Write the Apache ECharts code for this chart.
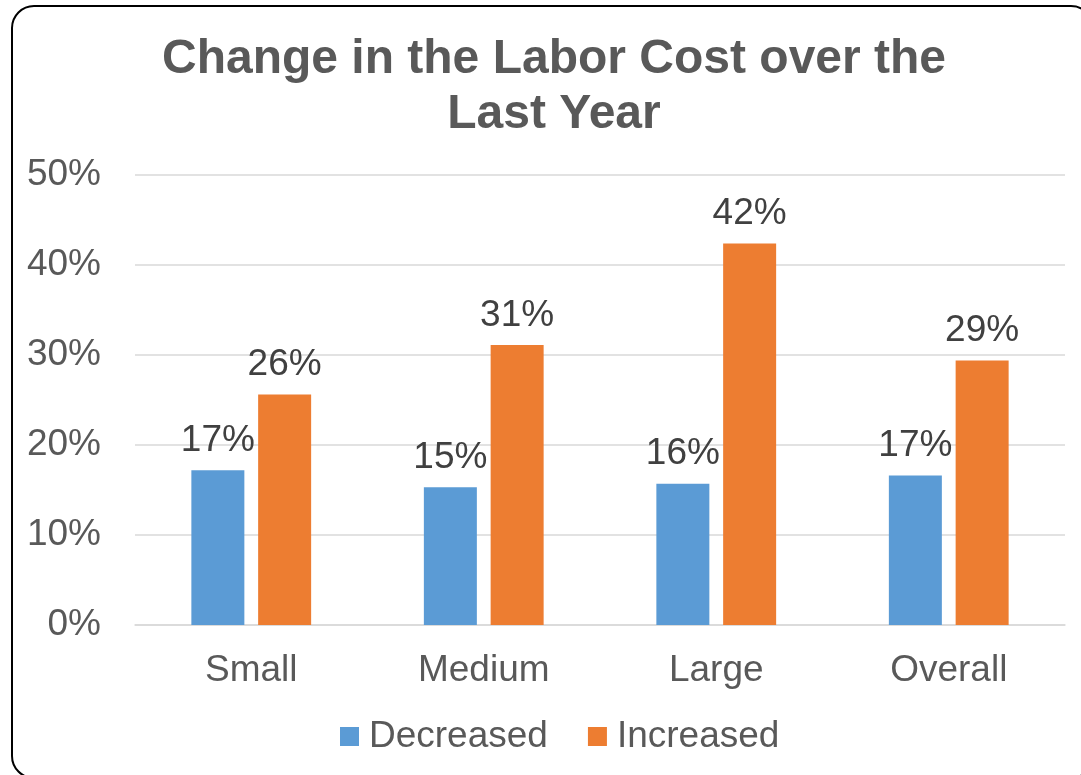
<!DOCTYPE html>
<html>
<head>
<meta charset="utf-8">
<title>Change in the Labor Cost over the Last Year</title>
<script src="https://cdn.jsdelivr.net/npm/echarts@6/dist/echarts.min.js"></script>
<style>
  html, body { margin: 0; padding: 0; background: #ffffff; }
  #chart { width: 1081px; height: 775px; }
</style>
</head>
<body>
<div id="chart"></div>
<script>
// Company size groups on the x axis
const categories = ['Small', 'Medium', 'Large', 'Overall'];
// Share of respondents (%) reporting each direction of change
const decreased = [17.2, 15.3, 15.7, 16.6];
const increased = [25.6, 31.1, 42.4, 29.4];
// Value axis ticks (%)
const yTicks = [0, 10, 20, 30, 40, 50];

const FONT = '"Liberation Sans", Arial, sans-serif';
const TEXT_SIZE = 37;
const chart = echarts.init(document.getElementById('chart'), null, { renderer: 'canvas' });

const pctLabel = {
  show: true,
  position: 'top',
  distance: 11,
  color: '#404040',
  fontSize: TEXT_SIZE,
  fontFamily: FONT,
  formatter: p => Math.round(p.value) + '%'
};

chart.setOption({
  backgroundColor: '#ffffff',
  animation: false,
  graphic: [{
    type: 'rect',
    shape: { x: 12, y: 6, width: 1081, height: 772, r: 22 },
    style: { fill: 'none', stroke: '#000000', lineWidth: 2 },
    silent: true
  }],
  title: {
    text: 'Change in the Labor Cost over the\nLast Year',
    left: 549,
    top: 27,
    textAlign: 'center',
    textStyle: {
      fontFamily: FONT,
      fontWeight: 'bold',
      fontSize: 48,
      lineHeight: 55,
      color: '#595959'
    }
  },
  legend: {
    data: ['Decreased', 'Increased'],
    left: 340,
    top: 718,
    padding: 0,
    icon: 'rect',
    itemWidth: 19,
    itemHeight: 19,
    itemGap: 40,
    textStyle: {
      fontFamily: FONT,
      fontSize: TEXT_SIZE,
      color: '#595959',
      padding: [0, 0, 0, 5]
    }
  },
  grid: { left: 135, right: 16, top: 175, bottom: 150, containLabel: false },
  xAxis: {
    type: 'category',
    data: categories,
    axisLine: { show: true, lineStyle: { color: '#d9d9d9', width: 1.5 } },
    axisTick: { show: false },
    axisLabel: {
      margin: 27,
      fontFamily: FONT,
      fontSize: TEXT_SIZE,
      color: '#595959'
    }
  },
  yAxis: {
    type: 'value',
    min: yTicks[0],
    max: yTicks[yTicks.length - 1],
    interval: yTicks[1] - yTicks[0],
    axisLine: { show: false },
    axisTick: { show: false },
    splitLine: { lineStyle: { color: '#d9d9d9', width: 1.5 } },
    axisLabel: {
      margin: 34,
      fontFamily: FONT,
      fontSize: TEXT_SIZE,
      color: '#595959',
      formatter: v => v + '%'
    }
  },
  series: [
    {
      name: 'Decreased',
      type: 'bar',
      data: decreased,
      barWidth: 53,
      barGap: '26%',
      itemStyle: { color: '#5B9BD5' },
      label: pctLabel
    },
    {
      name: 'Increased',
      type: 'bar',
      data: increased,
      barWidth: 53,
      barGap: '26%',
      itemStyle: { color: '#ED7D31' },
      label: pctLabel
    }
  ]
});
</script>
</body>
</html>
